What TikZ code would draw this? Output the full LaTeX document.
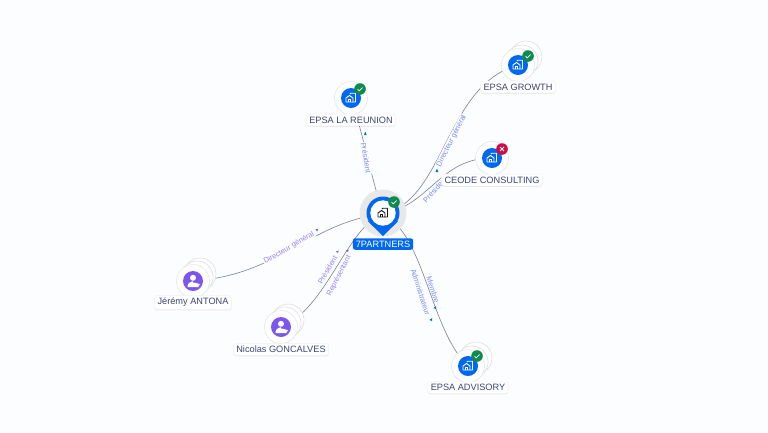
\documentclass[tikz,border=0pt]{standalone}
\usepackage{fontspec}
\setmainfont{Liberation Sans}
\usetikzlibrary{calc,shadows}
\definecolor{pagebg}{HTML}{FBFDFF}
\definecolor{hubblue}{HTML}{0068F0}
\definecolor{linkgrey}{HTML}{7B809C}
\definecolor{linktext}{HTML}{7C8CEB}
\definecolor{persontext}{HTML}{9A82F0}
\definecolor{nametext}{HTML}{3C4570}
\definecolor{okgreen}{HTML}{0E8A4F}
\definecolor{badred}{HTML}{D00A45}
\definecolor{personpurple}{HTML}{7B57EE}
\tikzset{
	linkline/.style={draw=linkgrey, line width=0.6pt},
	linklabel/.style={text=linktext, font=\fontsize{7.4}{8}\selectfont, fill=pagebg, inner sep=0.6pt},
	personlabel/.style={linklabel, text=persontext},
	nametag/.style={fill=white, draw=black!5, line width=0.5pt, rounded corners=2.5pt, text=nametext, font=\fontsize{9.2}{10}\selectfont, inner xsep=3pt, inner ysep=2.5pt, drop shadow={shadow xshift=0pt, shadow yshift=-1pt, opacity=0.15}},
	backdisc/.style={circle, fill=white, draw=black!13, line width=0.6pt, minimum size=32pt, inner sep=0pt},
	frontdisc/.style={circle, fill=white, draw=black!9, line width=0.6pt, minimum size=33pt, inner sep=0pt, drop shadow={shadow xshift=0pt, shadow yshift=-0.5pt, opacity=0.15}}
}
% building icon, scale 1 is the small one on a blue disc
\def\buildingicon(#1)[#2]{
	\draw[#2, line width=0.9pt, line join=round] ($(#1)+(-5,4)$) -- ++(0,-4) -- ++(3.5,-2.5) -- ++(3.5,2.5) -- ++(0,4) -- cycle;
	\draw[#2, line width=0.9pt, line join=round] ($(#1)+(-1,-3.8)$) -- ++(0.5,-1) -- ++(5,0) -- ++(0,8.8) -- ++(-3,0);
	\draw[#2, line width=0.8pt] ($(#1)+(-3,4)$) -- ++(0,-2.2) -- ++(2,0) -- ++(0,2.2);
}
\def\personicon(#1){
	\fill[white] ($(#1)+(0,-3.2)$) circle (3);
	\fill[white] ($(#1)+(-5.5,6)$) -- ++(0,-1.5) .. controls +(0,-3) and +(2,-3) .. ++(5.5,-3) .. controls +(3.5,0) and +(5.5,0) .. ++(5.5,3) -- ++(0,1.5) -- cycle;
}
\def\okbadge(#1){
	\fill[okgreen] (#1) circle (5.8);
	\draw[white, line width=0.7pt] ($(#1)+(-2.4,0.2)$) -- ++(1.7,1.7) -- ++(3.2,-3.4);
}
\def\nobadge(#1){
	\fill[badred] (#1) circle (5.8);
	\draw[white, line width=0.8pt] ($(#1)+(-2,-2)$) -- ++(4,4) ($(#1)+(-2,2)$) -- ++(4,-4);
}
\begin{document}
\begin{tikzpicture}[x=1pt, y=-1pt]
	\useasboundingbox (0,0) rectangle (768,432);
	\fill[pagebg] (0,0) rectangle (768,432);

	\coordinate (hub) at (383,214);
	\coordinate (reunion) at (351,98);
	\coordinate (growth) at (518,65);
	\coordinate (ceode) at (492,158);
	\coordinate (advisory) at (468,366);
	\coordinate (jeremy) at (193,281);
	\coordinate (nicolas) at (281,327);

	%%%%% links %%%%%
	\draw[linkline] (hub) .. controls (372,180) and (362,130) .. (reunion);
	\draw[linkline] (hub) .. controls (445,200) and (445,85) .. (growth);
	\draw[linkline] (hub) .. controls (430,205) and (440,158) .. (ceode);
	\draw[linkline] (hub) .. controls (425,235) and (430,330) .. (advisory);
	\draw[linkline] (hub) .. controls (310,222) and (280,275) .. (jeremy);
	\draw[linkline] (hub) .. controls (348,225) and (326,310) .. (nicolas);

	\node[linklabel, rotate=-80] (lreunion) at (366,158) {Président};
	\node[linklabel, rotate=63] (lgrowth) at (451.5,141) {Directeur général};
	\node[linklabel, rotate=47] (lceode) at (435,190) {Président};
	\node[personlabel, rotate=30] (ljeremy) at (289,248) {Directeur général};
	\node[personlabel, rotate=60, fill=none] (lnicolasa) at (327.5,270) {Président};
	\node[personlabel, rotate=63, fill=none] (lnicolasb) at (339,276) {Représentant};
	\node[linklabel, rotate=-72, fill=none] (ladvisorya) at (433,290) {Membre};
	\node[linklabel, rotate=-72, fill=none] (ladvisoryb) at (420.5,292) {Administrateur};

	\fill[hubblue] (364,135) -- ++(2.6,0) -- ++(-1.3,-3.5) -- cycle;
	\fill[hubblue] (435.5,172) -- ++(2.8,0) -- ++(-1.4,-3.5) -- cycle;
	\fill[personpurple] (317,231.5) -- ++(-1.5,-2.6) -- ++(2.8,0.2) -- cycle;
	\fill[personpurple] (338,253) -- ++(-2.2,-1.4) -- ++(2.8,-1) -- cycle;
	\fill[personpurple] (348,252) -- ++(-2.2,-1.4) -- ++(2.8,-1) -- cycle;
	\fill[hubblue] (436,309) -- ++(-2.6,-1) -- ++(2.8,-2) -- cycle;
	\fill[hubblue] (432,321) -- ++(-2.6,-1) -- ++(2.8,-2) -- cycle;

	%%%%% companies and people %%%%%
	\node[frontdisc] (reuniondisc) at (reunion) {};
	\fill[hubblue] (reunion) circle (10);
	\buildingicon(reunion)[white]
	\okbadge(360,89)
	\node[nametag] (reunionname) at (351,120) {EPSA LA REUNION};

	\node[backdisc] (growthbackb) at (526,57) {};
	\node[backdisc] (growthbacka) at (522,61) {};
	\node[frontdisc] (growthdisc) at (growth) {};
	\fill[hubblue] (growth) circle (10);
	\buildingicon(growth)[white]
	\okbadge(528,56)
	\node[nametag] (growthname) at (518,87) {EPSA GROWTH};

	\node[frontdisc] (ceodedisc) at (ceode) {};
	\fill[hubblue] (ceode) circle (10);
	\buildingicon(ceode)[white]
	\nobadge(502,149)
	\node[nametag] (ceodename) at (492,180) {CEODE CONSULTING};

	\node[backdisc] (advisorybackb) at (476,358) {};
	\node[backdisc] (advisorybacka) at (472,362) {};
	\node[frontdisc] (advisorydisc) at (advisory) {};
	\fill[hubblue] (advisory) circle (10);
	\buildingicon(advisory)[white]
	\okbadge(477,356)
	\node[nametag] (advisoryname) at (468,387.5) {EPSA ADVISORY};

	\node[backdisc] (jeremybackb) at (200,274) {};
	\node[backdisc] (jeremybacka) at (197,277) {};
	\node[frontdisc] (jeremydisc) at (jeremy) {};
	\fill[personpurple] (jeremy) circle (10);
	\personicon(jeremy)
	\node[nametag] (jeremyname) at (193,302.5) {Jérémy ANTONA};

	\node[backdisc] (nicolasbackb) at (288,320) {};
	\node[backdisc] (nicolasbacka) at (285,323) {};
	\node[frontdisc] (nicolasdisc) at (nicolas) {};
	\fill[personpurple] (nicolas) circle (10);
	\personicon(nicolas)
	\node[nametag] (nicolasname) at (281,349.5) {Nicolas GONCALVES};

	%%%%% centre pin %%%%%
	\fill[black!9] (383,213) circle (23.5);
	\fill[hubblue] (368,221) -- (383,236) -- (398,221) -- cycle;
	\fill[hubblue] (383,213) circle (16.5);
	\fill[white] (383,213) circle (12.7);
	\buildingicon(383,213)[black!70!nametext]
	\okbadge(394,202)
	\node[fill=hubblue, text=white, rounded corners=2.5pt, font=\fontsize{9.2}{10}\selectfont, inner xsep=3pt, inner ysep=2.5pt] (hubname) at (383,244) {7PARTNERS};
\end{tikzpicture}
\end{document}
